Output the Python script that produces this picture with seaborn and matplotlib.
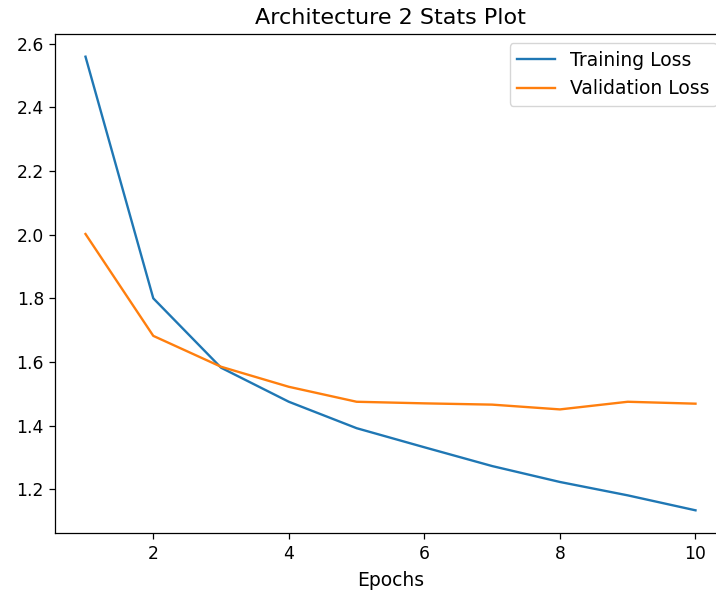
import matplotlib
matplotlib.use("Agg")
import matplotlib.pyplot as plt
import seaborn as sns
import pandas as pd

epochs = [1, 2, 3, 4, 5, 6, 7, 8, 9, 10]
training_loss = [2.559, 1.800, 1.582, 1.475, 1.392, 1.332, 1.273, 1.223, 1.181, 1.134]
validation_loss = [2.002, 1.682, 1.585, 1.522, 1.475, 1.470, 1.466, 1.451, 1.475, 1.469]

df = pd.DataFrame({
    "Epochs": epochs * 2,
    "Loss": training_loss + validation_loss,
    "Series": ["Training Loss"] * len(epochs) + ["Validation Loss"] * len(epochs),
})

plt.rcParams["axes.linewidth"] = 0.9
plt.rcParams["xtick.major.width"] = 0.9
plt.rcParams["ytick.major.width"] = 0.9
plt.rcParams["xtick.major.size"] = 4
plt.rcParams["ytick.major.size"] = 4
plt.rcParams["xtick.major.pad"] = 4.5
plt.rcParams["ytick.major.pad"] = 4

fig = plt.figure(figsize=(7.16, 5.92), dpi=100)
ax = fig.add_axes([55 / 716, 1 - 533 / 592, 671 / 716, 499 / 592])
sns.lineplot(data=df, x="Epochs", y="Loss", hue="Series",
             palette=["#1f77b4", "#ff7f0e"], ax=ax, linewidth=1.7)
ax.set_ylabel("")
ax.set_xlabel("Epochs", fontsize=13.5, labelpad=6)
ax.set_title("Architecture 2 Stats Plot", fontsize=16, pad=7)
ax.tick_params(labelsize=12.3)
leg = ax.legend(loc="upper right", fontsize=13.5)
fig.savefig("out.png", dpi=100)
